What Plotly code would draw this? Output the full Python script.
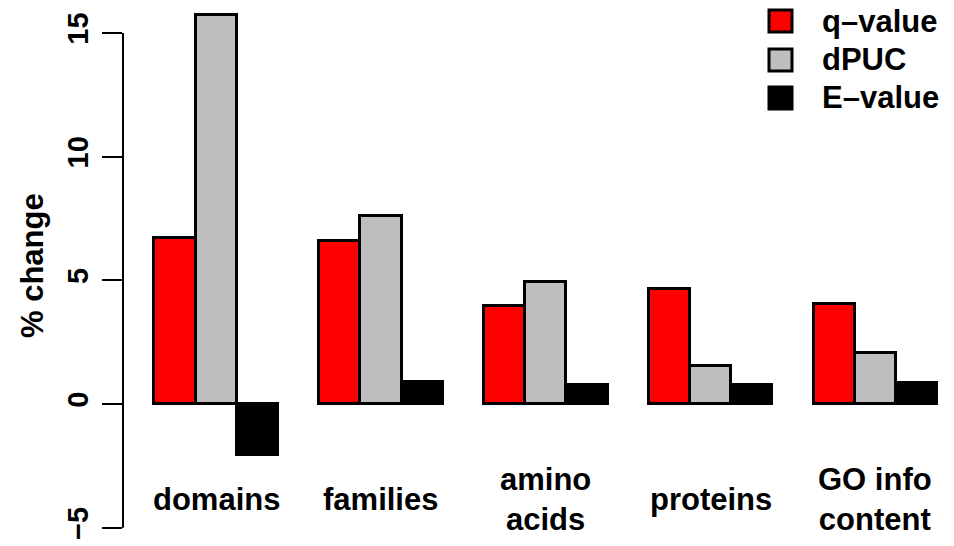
import plotly.graph_objects as go

# ---- data ----
categories = ["domains", "families", "amino<br>acids", "proteins", "GO info<br>content"]
series_names = ["q\u2013value", "dPUC", "E\u2013value"]
q_value = [6.72, 6.60, 3.96, 4.64, 4.04]
dpuc = [15.74, 7.61, 4.92, 1.55, 2.05]
e_value = [-2.07, 0.90, 0.77, 0.77, 0.86]
series_colors = ["#FF0000", "#BEBEBE", "#000000"]
y_ticks = [-5, 0, 5, 10, 15]
y_ticktext = ["\u22125", "0", "5", "10", "15"]

# the page body adds an 8px margin; size the figure to compensate
OFF = 8
W, H = 954 - OFF, 546 - OFF
ML, MR, MT, MB = 123 - OFF, 0, 0, 0
PW = W - ML - MR
PH = H - MT - MB
ZERO_PX = 404 - OFF
PX_PER_UNIT = 24.74
FONT = "Liberation Sans, Arial, Helvetica, sans-serif"

def pxx(px):  # page x -> paper
    return (px - OFF - ML) / PW

def pxy(py):  # page y -> paper
    return 1 - (py - OFF - MT) / PH

fig = go.Figure()
all_series = [q_value, dpuc, e_value]
for k, (name, vals, col) in enumerate(zip(series_names, all_series, series_colors)):
    xs = [4 * i + 1.5 + k for i in range(len(categories))]
    fig.add_trace(go.Bar(
        x=xs, y=vals, width=1, name=name,
        marker=dict(color=col, line=dict(color="black", width=3)),
        showlegend=False, hoverinfo="y",
    ))

# axis line (only between -5 and 15, like R)
fig.add_shape(type="line", xref="paper", yref="y", x0=0, x1=0, y0=-5, y1=15,
              line=dict(color="black", width=2))

# category labels
for i, c in enumerate(categories):
    fig.add_annotation(x=4 * i + 2.5, xref="x", y=pxy(500), yref="paper",
                       text=c, showarrow=False, xanchor="center", yanchor="middle",
                       font=dict(family=FONT, size=31, color="black", weight="bold"))

# y title
fig.add_annotation(x=pxx(32), xref="paper", y=pxy(266), yref="paper",
                   text="% change", textangle=-90, showarrow=False,
                   xanchor="center", yanchor="middle",
                   font=dict(family=FONT, size=31, color="black", weight="bold"))

# legend (manual)
leg_centers = [21, 60, 98]
for name, col, cy in zip(series_names, series_colors, leg_centers):
    fig.add_shape(type="rect", xref="paper", yref="paper",
                  x0=pxx(769), x1=pxx(792), y0=pxy(cy - 11), y1=pxy(cy + 11),
                  fillcolor=col, line=dict(color="black", width=3))
    fig.add_annotation(x=pxx(820), xref="paper", y=pxy(cy), yref="paper",
                       text=name, showarrow=False, xanchor="left", yanchor="middle",
                       font=dict(family=FONT, size=31, color="black", weight="bold"))

fig.update_layout(
    width=W, height=H,
    margin=dict(l=ML, r=MR, t=MT, b=MB, pad=0, autoexpand=False),
    paper_bgcolor="white", plot_bgcolor="white",
    barmode="overlay",
    bargap=0,
    xaxis=dict(range=[0.24, 0.24 + PW / 41.2], visible=False, fixedrange=True),
    yaxis=dict(range=[-(PH - ZERO_PX) / PX_PER_UNIT, ZERO_PX / PX_PER_UNIT],
               tickvals=y_ticks, ticktext=y_ticktext,
               ticks="outside", ticklen=20, tickwidth=2, tickcolor="black",
               tickangle=-90, showgrid=False, zeroline=False, showline=False,
               tickfont=dict(family=FONT, size=29, color="black", weight="bold"),
               ticklabelstandoff=2),
    font=dict(family=FONT),
)

fig.write_html("out.html")
